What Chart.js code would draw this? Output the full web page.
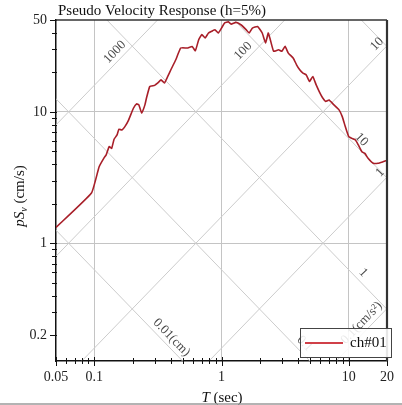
<!DOCTYPE html>
<html><head><meta charset="utf-8">
<script src="https://cdn.jsdelivr.net/npm/chart.js@4.4.0/dist/chart.umd.min.js"></script>
<style>html,body{margin:0;padding:0;background:#fff;overflow:hidden}</style>
</head><body>
<canvas id="c" width="402" height="405"></canvas>
<script>
// ---- data ----
const periods = [0.05,0.095,0.109,0.119,0.124,0.131,0.137,0.143,0.151,0.156,0.165,0.174,0.186,0.203,0.215,0.224,0.236,0.25,0.257,0.273,0.298,0.316,0.335,0.356,0.378,0.40,0.437,0.478,0.538,0.588,0.623,0.662,0.701,0.744,0.79,0.838,0.888,0.943,1.0,1.06,1.13,1.19,1.30,1.42,1.56,1.65,1.75,1.92,2.09,2.22,2.33,2.42,2.57,2.81,2.98,3.16,3.35,3.67,3.89,4.12,4.37,4.64,4.92,5.22,5.54,5.88,6.23,6.6,7.0,7.65,8.37,8.9,9.4,10,10.6,11.3,11.9,12.7,13.4,14.2,15.6,17.0,18.6,20];
const psv = [1.32,2.41,3.81,4.45,4.7,5.44,5.28,6.19,6.67,7.37,7.28,7.72,8.66,10.65,11.5,11.3,9.77,11.3,12.7,15.6,15.9,16.6,17.5,16.6,18.6,20.9,24.9,30.6,30.6,31.4,29.2,35.4,38.7,36.5,39.8,41,42.2,39.8,43.4,47.5,48.4,46.5,48,46,42.2,39.8,43.4,44.6,39.8,33.4,39.8,35.4,28.9,29.7,28.9,31.5,28,25.6,22.8,20.9,19.7,19.1,17,18.6,16.1,14.2,12.8,12,12.3,11.3,10.4,9.2,7.72,6.47,6.28,6.11,5.6,4.97,4.83,4.43,4.06,4.06,4.17,4.27];
const seriesName = 'ch#01';
const xLabelTicks = [0.05,0.1,1,10,20];
const yLabelTicks = [0.2,1,10,50];
const xGridTicks = [0.1,1,10];
const yGridTicks = [1,10];
const xAllTicks = [0.05,0.06,0.07,0.08,0.09,0.1,0.2,0.3,0.4,0.5,0.6,0.7,0.8,0.9,1,2,3,4,5,6,7,8,9,10,20];
const yAllTicks = [0.2,0.3,0.4,0.5,0.6,0.7,0.8,0.9,1,2,3,4,5,6,7,8,9,10,20,30,40,50];
const accelLines = [0.01,0.1,1,10,100,1000,10000,100000];   // cm/s^2
const dispLines = [0.0001,0.001,0.01,0.1,1,10,100,1000];    // cm
const accelLabels = [{v:1000,t:0.145,text:'1000'},{v:100,t:1.48,text:'100'},{v:10,t:16.7,text:'10'},{v:1,t:17.6,text:'1'},{v:0.1,t:12.6,text:'0.1(cm/s²)'}];
const dispLabels = [{v:0.01,t:0.405,text:'0.01(cm)'},{v:0.1,t:4.5,text:'0.1'},{v:1,t:13,text:'1'},{v:10,t:12.6,text:'10'}];
const titleText = 'Pseudo Velocity Response (h=5%)';

const TWO_PI = 2*Math.PI;
const serif = "'Liberation Serif','Times New Roman',serif";
const lineColor = '#a81f29';

const tripartite = {
  id:'tripartite',
  beforeDatasetsDraw(chart){
    const {ctx, chartArea:a, scales:{x,y}} = chart;
    ctx.save();
    ctx.beginPath(); ctx.rect(a.left,a.top,a.right-a.left,a.bottom-a.top); ctx.clip();
    ctx.strokeStyle='#cccccc'; ctx.lineWidth=1;
    const t0=0.001,t1=1000;
    accelLines.forEach(sa=>{
      ctx.beginPath();
      ctx.moveTo(x.getPixelForValue(t0), y.getPixelForValue(sa*t0/TWO_PI));
      ctx.lineTo(x.getPixelForValue(t1), y.getPixelForValue(sa*t1/TWO_PI));
      ctx.stroke();
    });
    dispLines.forEach(d=>{
      ctx.beginPath();
      ctx.moveTo(x.getPixelForValue(t0), y.getPixelForValue(TWO_PI*d/t0));
      ctx.lineTo(x.getPixelForValue(t1), y.getPixelForValue(TWO_PI*d/t1));
      ctx.stroke();
    });
    const dx = x.getPixelForValue(10)-x.getPixelForValue(1);
    const dy = y.getPixelForValue(1)-y.getPixelForValue(10);
    const ang = Math.atan2(dy,dx);
    ctx.fillStyle='#4a4a4a'; ctx.font='13px '+serif; ctx.textAlign='center'; ctx.textBaseline='middle';
    accelLabels.forEach(l=>{
      const px=x.getPixelForValue(l.t), py=y.getPixelForValue(l.v*l.t/TWO_PI)-12;
      ctx.save(); ctx.translate(px,py); ctx.rotate(-ang); ctx.fillText(l.text,0,0); ctx.restore();
    });
    dispLabels.forEach(l=>{
      const px=x.getPixelForValue(l.t), py=y.getPixelForValue(TWO_PI*l.v/l.t)-12;
      ctx.save(); ctx.translate(px,py); ctx.rotate(ang); ctx.fillText(l.text,0,0); ctx.restore();
    });
    ctx.restore();
  },
  afterDraw(chart){
    const {ctx, chartArea:a, scales:{x,y}} = chart;
    ctx.save();
    // tick marks
    ctx.strokeStyle='#111'; ctx.lineWidth=1;
    xAllTicks.forEach(v=>{
      const px=Math.round(x.getPixelForValue(v))+0.5;
      const major = xLabelTicks.includes(v);
      ctx.beginPath(); ctx.moveTo(px,a.bottom-(major?4:3)); ctx.lineTo(px,a.bottom+(major?5:3)); ctx.stroke();
    });
    yAllTicks.forEach(v=>{
      const py=Math.round(y.getPixelForValue(v))+0.5;
      const major = yLabelTicks.includes(v);
      ctx.beginPath(); ctx.moveTo(a.left-(major?6:4),py); ctx.lineTo(a.left+1,py); ctx.stroke();
    });
    // top & right frame
    ctx.strokeStyle='#333'; ctx.lineWidth=1.5;
    ctx.beginPath(); ctx.moveTo(a.left,a.top); ctx.lineTo(a.right,a.top); ctx.stroke();
    ctx.lineWidth=2.2;
    ctx.beginPath(); ctx.moveTo(a.right,a.top); ctx.lineTo(a.right,a.bottom); ctx.stroke();
    // legend
    const lx=300, ly=328, lw=91, lh=29;
    ctx.fillStyle='rgba(255,255,255,0.88)'; ctx.fillRect(lx,ly,lw,lh);
    ctx.strokeStyle='#444'; ctx.lineWidth=1; ctx.strokeRect(lx+0.5,ly+0.5,lw,lh);
    const ds = chart.data.datasets[0];
    ctx.strokeStyle='#d04048'; ctx.lineWidth=1.8;
    ctx.beginPath(); ctx.moveTo(lx+5,ly+15); ctx.lineTo(lx+43,ly+15); ctx.stroke();
    ctx.fillStyle='#111'; ctx.font='15px '+serif; ctx.textAlign='left'; ctx.textBaseline='middle';
    ctx.fillText(ds.label, lx+50, ly+15);
    // title
    ctx.font='15px '+serif; ctx.textBaseline='alphabetic';
    ctx.fillText(titleText, 58, 15);
    // x title
    ctx.font='italic 15px '+serif;
    const w1 = ctx.measureText('T').width;
    ctx.font='15px '+serif;
    const w2 = ctx.measureText(' (sec)').width;
    let sx = 222-(w1+w2)/2;
    ctx.font='italic 15px '+serif; ctx.fillText('T', sx, 402);
    ctx.font='15px '+serif; ctx.fillText(' (sec)', sx+w1, 402);
    // y title
    ctx.save();
    ctx.translate(24,196); ctx.rotate(-Math.PI/2);
    ctx.font='italic 15px '+serif; const a1=ctx.measureText('pS').width;
    ctx.font='italic 10px '+serif; const a2=ctx.measureText('v').width;
    ctx.font='15px '+serif; const a3=ctx.measureText(' (cm/s)').width;
    let s = -(a1+a2+a3)/2;
    ctx.font='italic 15px '+serif; ctx.fillText('pS', s, 0);
    ctx.font='italic 10px '+serif; ctx.fillText('v', s+a1, 3);
    ctx.font='15px '+serif; ctx.fillText(' (cm/s)', s+a1+a2, 0);
    ctx.restore();
    // bottom scan line
    ctx.strokeStyle='#9a9a9a'; ctx.lineWidth=1.5;
    ctx.beginPath(); ctx.moveTo(0,404); ctx.lineTo(402,404); ctx.stroke();
    ctx.restore();
  }
};

new Chart(document.getElementById('c'), {
  type:'line',
  data:{datasets:[{label:seriesName, data:periods.map((t,i)=>({x:t,y:psv[i]})), borderColor:lineColor, borderWidth:1.6, pointRadius:0, tension:0.12, fill:false}]},
  options:{
    responsive:false, animation:false, devicePixelRatio:1,
    layout:{padding:{left:0,right:8,top:20,bottom:0}},
    plugins:{legend:{display:false}, title:{display:false}, tooltip:{enabled:false}},
    scales:{
      x:{type:'logarithmic', min:0.05, max:20,
        afterBuildTicks:(s)=>{ s.ticks = xAllTicks.map(v=>({value:v, major:xLabelTicks.includes(v)})); },
        afterFit:(s)=>{ s.height=44; },
        ticks:{autoSkip:false, maxRotation:0, padding:8, color:'#222', font:{family:serif,size:14},
          callback:(v)=> xLabelTicks.includes(v) ? String(v) : ''},
        grid:{drawTicks:false, color:(c)=> (c.tick && xGridTicks.includes(c.tick.value)) ? '#c4c4c4' : 'rgba(0,0,0,0)'},
        border:{display:true, color:'#111', width:1.5}
      },
      y:{type:'logarithmic', min:0.127, max:50,
        afterBuildTicks:(s)=>{ s.ticks = yAllTicks.map(v=>({value:v, major:yLabelTicks.includes(v)})); },
        afterFit:(s)=>{ s.width=56; },
        ticks:{autoSkip:false, padding:9, color:'#222', font:{family:serif,size:14},
          callback:(v)=> yLabelTicks.includes(v) ? String(v) : ''},
        grid:{drawTicks:false, color:(c)=> (c.tick && yGridTicks.includes(c.tick.value)) ? '#c4c4c4' : 'rgba(0,0,0,0)'},
        border:{display:true, color:'#111', width:1.5}
      }
    }
  },
  plugins:[tripartite]
});
</script>
</body></html>
